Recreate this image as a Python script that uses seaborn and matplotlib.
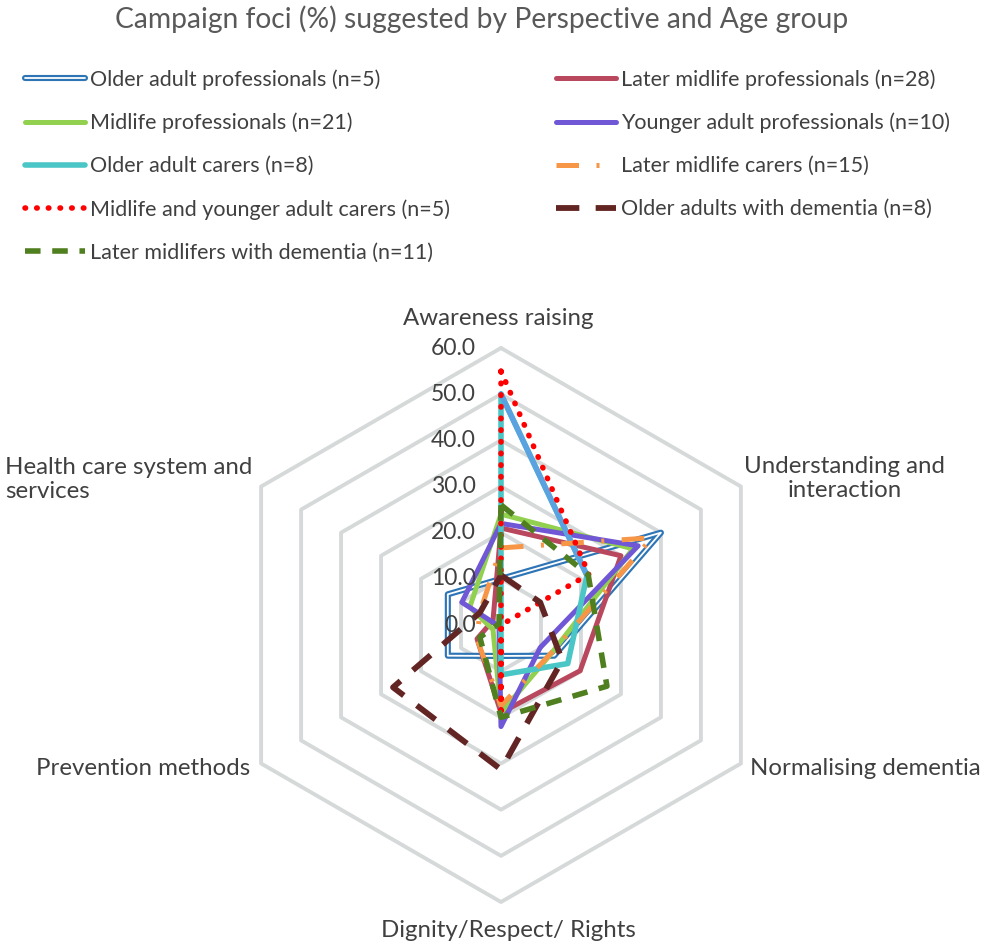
import numpy as np
import matplotlib
matplotlib.use("Agg")
import matplotlib.pyplot as plt
import matplotlib.patheffects as pe
import seaborn as sns

# Campaign foci (%) per perspective / age group
categories = ["Awareness raising", "Understanding and\ninteraction", "Normalising dementia",
              "Dignity/Respect/ Rights", "Prevention methods", "Health care system and\nservices"]
ring_values = [10, 20, 30, 40, 50, 60]
tick_values = [0, 10, 20, 30, 40, 50, 60]
tick_labels = ["0.0", "10.0", "20.0", "30.0", "40.0", "50.0", "60.0"]

older_adult_prof = [10.0, 40.0, 13.3, 6.7, 13.3, 13.3]
later_midlife_prof = [21.0, 30.0, 19.8, 19.0, 6.0, 2.0]
midlife_prof = [24.0, 33.0, 12.5, 19.0, 2.0, 7.8]
younger_adult_prof = [22.0, 34.3, 9.8, 22.0, 0.5, 9.8]
older_adult_carers = [50.0, 21.5, 16.7, 10.8, 0.0, 0.0]
later_midlife_carers = [16.7, 37.8, 12.4, 17.5, 6.0, 5.3]
midlife_younger_carers = [55.0, 22.0, 0.0, 18.5, 0.0, 0.0]
older_dementia = [10.8, 9.8, 15.3, 31.3, 27.0, 5.3]
later_midlife_dementia = [26.0, 21.8, 26.5, 20.0, 5.3, 0.5]

series = [
    ("Older adult professionals (n=5)", older_adult_prof,
     dict(color="white", linewidth=1.3,
          path_effects=[pe.Stroke(linewidth=4.4, foreground="#2E75B6"), pe.Normal()])),
    ("Later midlife professionals (n=28)", later_midlife_prof,
     dict(color="#B9485E", linewidth=3.6)),
    ("Midlife professionals (n=21)", midlife_prof,
     dict(color="#92D050", linewidth=3.6)),
    ("Younger adult professionals (n=10)", younger_adult_prof,
     dict(color="#7057D6", linewidth=3.6)),
    ("Older adult carers (n=8)", older_adult_carers,
     dict(color="#4BC6C6", linewidth=4.0)),
    ("Later midlife carers (n=15)", later_midlife_carers,
     dict(color="#F79646", linewidth=3.6, linestyle=(0, (4.5, 3.5, 0.6, 3.5)))),
    ("Midlife and younger adult carers (n=5)", midlife_younger_carers,
     dict(color="#FF0000", linewidth=4.0, linestyle=(0, (0.1, 2.0)), dash_capstyle="round")),
    ("Older adults with dementia (n=8)", older_dementia,
     dict(color="#632523", linewidth=4.2, linestyle=(0, (4.0, 2.8)))),
    ("Later midlifers with dementia (n=11)", later_midlife_dementia,
     dict(color="#4F7F1F", linewidth=4.0, linestyle=(0, (2.8, 2.1)))),
]

sns.set_theme(style="white")
plt.rcParams["font.family"] = ["Lato", "DejaVu Sans"]
text_color = "#404040"

fig = plt.figure(figsize=(9.88, 9.46), dpi=100)
ax = fig.add_axes([224 / 988, 44 / 946, 554 / 988, 554 / 946], projection="polar")
ax.set_theta_zero_location("N")
ax.set_theta_direction(-1)

n = len(categories)
theta = np.arange(n) * 2 * np.pi / n
theta_closed = np.append(theta, theta[0])

# hexagonal grid rings
for v in ring_values:
    ax.plot(theta_closed, [v] * (n + 1), color="#D6D9D9", linewidth=2.8, zorder=1, clip_on=False)

handles = {}
for label, values, style in series:
    vals = np.append(values, values[0])
    sns.lineplot(x=theta_closed, y=vals, sort=False, estimator=None, ax=ax,
                 label=label, clip_on=False, zorder=3, **style)
    handles[label] = ax.lines[-1]
    if label.startswith("Older adult carers"):
        # the first stretch of this series fades to a lighter blue in the original
        sns.lineplot(x=theta[:2], y=values[:2], sort=False, estimator=None, ax=ax,
                     color="#5BA3E0", linewidth=4.0, clip_on=False, zorder=3)

ax.set_ylim(0, 60)
ax.set_xticks([])
ax.set_yticks([])
ax.grid(False)
ax.spines["polar"].set_visible(False)
ax.set_xlabel("")
ax.set_ylabel("")
if ax.get_legend() is not None:
    ax.get_legend().remove()

# value labels along the top axis
for v, t in zip(tick_values, tick_labels):
    ax.annotate(t, xy=(0, v), xytext=(-25, 0), textcoords="offset pixels",
                ha="right", va="center", fontsize=16.5, color=text_color, annotation_clip=False)

# category labels
label_pos = [
    ((-3, 30), "center", "center"),
    ((104, 8), "center", "center"),
    ((9, -5), "left", "center"),
    ((7, -28), "center", "center"),
    ((-11, -5), "right", "center"),
    ((-256, 7), "left", "center"),
]
for th, cat, (off, ha, va) in zip(theta, categories, label_pos):
    ax.annotate(cat, xy=(th, 60), xytext=off, textcoords="offset pixels",
                ha=ha, va=va, multialignment="center" if ha == "center" else "left",
                fontsize=17.3, color=text_color, annotation_clip=False, linespacing=1.2)

fig.text(482 / 988, 1 - 19 / 946, "Campaign foci (%) suggested by Perspective and Age group",
         ha="center", va="center", fontsize=20.3, color="#595959")

order = ["Older adult professionals (n=5)", "Midlife professionals (n=21)",
         "Older adult carers (n=8)", "Midlife and younger adult carers (n=5)",
         "Later midlifers with dementia (n=11)",
         "Later midlife professionals (n=28)", "Younger adult professionals (n=10)",
         "Later midlife carers (n=15)", "Older adults with dementia (n=8)"]
fig.legend([handles[k] for k in order], order, loc="upper left",
           bbox_to_anchor=(25 / 988, 1 - 69 / 946), ncol=2, frameon=False,
           fontsize=15.5, handlelength=2.8, handletextpad=0.23, columnspacing=4.9,
           labelspacing=1.07, borderaxespad=0, borderpad=0, labelcolor=text_color)

fig.savefig("out.png", dpi=100)
